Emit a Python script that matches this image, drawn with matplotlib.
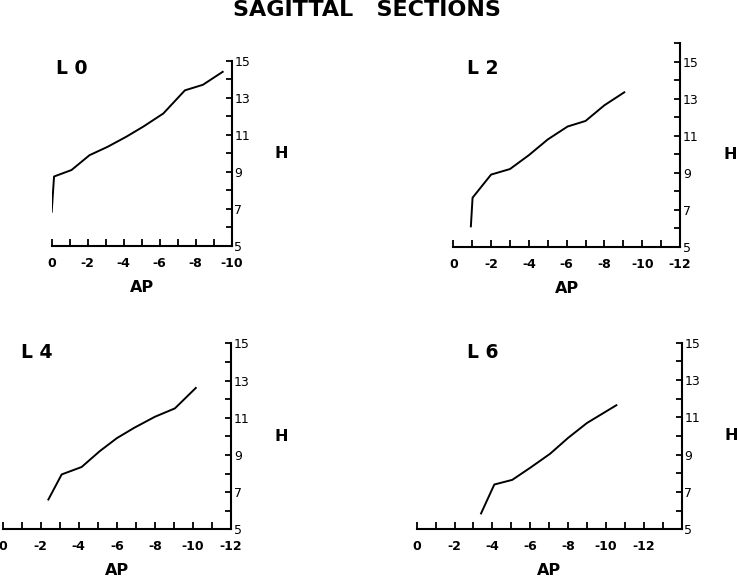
import matplotlib
matplotlib.use("Agg")
import matplotlib.pyplot as plt

ap_l0 = [0, -0.13, -1.1, -2.1, -3.1, -4.15, -5.1, -6.2, -7.4, -8.4, -9.5]
h_l0 = [6.85, 8.75, 9.1, 9.9, 10.35, 10.9, 11.45, 12.15, 13.4, 13.7, 14.4]

ap_l2 = [-0.93, -1.02, -2.0, -3.0, -4.0, -5.0, -6.05, -7.0, -8.0, -9.05]
h_l2 = [6.1, 7.65, 8.9, 9.2, 9.95, 10.8, 11.5, 11.8, 12.65, 13.35]

ap_l4 = [-2.4, -3.1, -4.15, -5.1, -6.0, -6.9, -8.0, -9.05, -10.15]
h_l4 = [6.6, 7.95, 8.35, 9.2, 9.9, 10.45, 11.05, 11.5, 12.6]

ap_l6 = [-3.4, -4.1, -5.05, -6.0, -7.05, -8.0, -9.0, -10.55]
h_l6 = [5.85, 7.4, 7.65, 8.3, 9.05, 9.9, 10.7, 11.65]

panels = [
    # name, x, y, axes rect in pixels (left, right, bottom, top), x end, y top,
    # panel label position in pixels
    ("L0", ap_l0, h_l0, (51.7, 231.7, 246.0, 60.7), -10, 15, (72, 69)),
    ("L2", ap_l2, h_l2, (453.3, 680.0, 246.7, 43.3), -12, 16, (483, 69)),
    ("L4", ap_l4, h_l4, (2.7, 231.0, 529.3, 343.3), -12, 15, (37, 352)),
    ("L6", ap_l6, h_l6, (416.7, 681.7, 529.3, 342.7), -14, 15, (483, 353)),
]

W, H = 738, 579
fig = plt.figure(figsize=(W / 100, H / 100), dpi=100)
fig.patch.set_facecolor("white")

fig.text(366.7 / W, 1 - 10 / H, "SAGITTAL   SECTIONS", ha="center", va="center",
         fontsize=16, fontweight="bold")

for name, xs, ys, (l, r, b, t), xend, ytop, (lx, ly) in panels:
    ax = fig.add_axes([l / W, 1 - b / H, (r - l) / W, (b - t) / H])
    ax.plot(xs, ys, color="black", lw=1.4)
    ax.set_xlim(0, xend)
    ax.set_ylim(5, ytop)

    for s in ("top", "left"):
        ax.spines[s].set_visible(False)
    for s in ("bottom", "right"):
        ax.spines[s].set_linewidth(1.5)

    ax.yaxis.tick_right()
    xt = list(range(0, xend - 1, -1))
    ax.set_xticks(xt)
    ax.set_xticklabels([str(v) if v % 2 == 0 and v >= -12 else "" for v in xt],
                       fontweight="bold")
    yt = list(range(5, ytop + 1))
    ax.set_yticks(yt)
    ax.set_yticklabels([str(v) if v % 2 == 1 and v <= 15 else "" for v in yt])
    ax.tick_params(axis="x", direction="in", length=5, width=1.3, pad=8,
                   labelsize=9)
    ax.tick_params(axis="y", direction="in", length=4.5, width=1.3, pad=2,
                   labelsize=9, right=True, left=False)

    # axis titles
    ax.annotate("AP", xy=(0.5, 0), xycoords="axes fraction", xytext=(0, -30),
                textcoords="offset points", ha="center", va="center",
                fontsize=11.5, fontweight="bold")
    ax.annotate("H", xy=(1, 10), xycoords=("axes fraction", "data"),
                xytext=(36, 0), textcoords="offset points", ha="center",
                va="center", fontsize=11.5, fontweight="bold")

    fig.text(lx / W, 1 - ly / H, name[0] + " " + name[1], ha="center",
             va="center", fontsize=13.5, fontweight="bold")

fig.savefig("out.png", dpi=100)
